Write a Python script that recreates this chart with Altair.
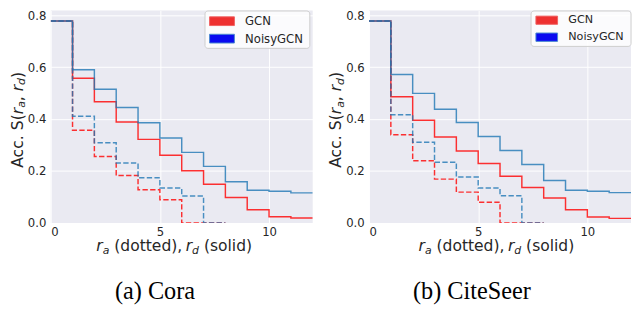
import altair as alt
import pandas as pd

# ---------------- data ----------------
# accuracy S(r_a, r_d) per radius step; solid = r_d (x 0..11), dotted = r_a (x 0..7)
cora_gcn_rd = [0.778, 0.557, 0.467, 0.389, 0.322, 0.261, 0.201, 0.149, 0.098, 0.051, 0.024, 0.019]
cora_noisy_rd = [0.778, 0.590, 0.515, 0.445, 0.386, 0.327, 0.272, 0.218, 0.159, 0.126, 0.122, 0.116]
cora_gcn_ra = [0.778, 0.357, 0.256, 0.183, 0.128, 0.090, 0.0, 0.0]
cora_noisy_ra = [0.778, 0.411, 0.309, 0.231, 0.174, 0.135, 0.104, 0.0]

cs_gcn_rd = [0.778, 0.486, 0.396, 0.331, 0.277, 0.229, 0.180, 0.137, 0.096, 0.051, 0.023, 0.018]
cs_noisy_rd = [0.778, 0.572, 0.499, 0.438, 0.387, 0.333, 0.279, 0.225, 0.164, 0.126, 0.122, 0.117]
cs_gcn_ra = [0.778, 0.340, 0.240, 0.169, 0.119, 0.080, 0.0, 0.0]
cs_noisy_ra = [0.778, 0.417, 0.311, 0.234, 0.177, 0.135, 0.105, 0.0]

x_ticks = [0, 5, 10]
y_ticks = [0.0, 0.2, 0.4, 0.6, 0.8]
models = ["GCN", "NoisyGCN"]
captions = ["(a) Cora", "(b) CiteSeer"]

# ---------------- styling ----------------
W, H = 270, 219
RED = "#ff0000"
BLUE = "#1f77b4"
DASH = [5.5, 2.4]
TXT = "#262626"
FONT = "DejaVu Sans"


def series_df(vals, end_x):
    xs = list(range(len(vals))) + [end_x]
    ys = list(vals) + [vals[-1]]
    return pd.DataFrame({"x": xs, "y": ys})


one = pd.DataFrame({"k": [0]})


def txt(text, x, y, size=16, italic=False, dx=0, dy=0, angle=0, align="left",
        baseline="alphabetic", font=FONT, color=TXT):
    kw = dict(text=text, fontSize=size, font=font, color=color, align=align,
              baseline=baseline, dx=dx, dy=dy)
    if italic:
        kw["fontStyle"] = "italic"
    if angle:
        kw["angle"] = angle
    return alt.Chart(one).mark_text(**kw).encode(x=alt.value(x), y=alt.value(y))


def rect(x1, x2, y1, y2, **kw):
    return alt.Chart(one).mark_rect(**kw).encode(
        x=alt.value(x1), x2=alt.value(x2), y=alt.value(y1), y2=alt.value(y2))


S = 16 / 2048.0      # DejaVu Sans advance units -> px at 16px
SUB = 11.2 / 2048.0  # subscript size
SP = 651 * S         # width of a space


def pieces(parts, ax, ay, angle=0):
    # parts: (text, italic, size, dy, lead_gap, advance)
    out, off = [], 0.0
    for t, it, sz, dy, gap, w in parts:
        out.append(txt(t, ax, ay, size=sz, italic=it, dx=off + gap, dy=dy, angle=angle))
        off += w
    return out


def y_title():
    parts = [("Acc.", False, 16, 0, 0, 4304 * S + SP),
             ("S(", False, 16, 0, 0, 2099 * S),
             ("r", True, 16, 0, 0, 842 * S),
             ("a", True, 11.2, 3, 0, 1255 * SUB),
             (",", False, 16, 0, 0, 1302 * S),
             ("r", True, 16, 0, 0, 842 * S),
             ("d", True, 11.2, 3, 0, 1300 * SUB),
             (")", False, 16, 0, 0, 799 * S)]
    return pieces(parts, -29, 162, angle=270)


def x_title(x0):
    parts = [("r", True, 16, 0, 0, 842 * S),
             ("a", True, 11.2, 3, 0, 1255 * SUB),
             ("(dotted),", False, 16, 0, SP, 10070 * S),
             ("r", True, 16, 0, 0, 842 * S),
             ("d", True, 11.2, 3, 0, 1300 * SUB),
             ("(solid)", False, 16, 0, SP, 7007 * S)]
    return pieces(parts, x0, 248)


def legend(box, patch_x, p1, p2, label_x, fs):
    out = [rect(box[0], box[1], box[2], box[3], fill="white", fillOpacity=0.8,
                stroke="#cccccc", strokeWidth=1, cornerRadius=3)]
    out.append(rect(patch_x[0], patch_x[1], p1[0], p1[1], fill="#ee3030",
                    stroke="#f06060", strokeWidth=1))
    out.append(rect(patch_x[0], patch_x[1], p2[0], p2[1], fill="#0a0af0",
                    stroke="#4a8ad0", strokeWidth=1))
    out.append(txt(models[0], label_x, (p1[0] + p1[1]) / 2, size=fs, baseline="middle"))
    out.append(txt(models[1], label_x, (p2[0] + p2[1]) / 2, size=fs, baseline="middle"))
    return out


def panel(gcn_rd, noisy_rd, gcn_ra, noisy_ra, caption, cap_x, xt_x, leg):
    xenc = alt.X("x:Q", scale=alt.Scale(domain=[0, 12], nice=False, zero=False),
                 axis=alt.Axis(values=x_ticks, title=None, format="d",
                               labelFontSize=12, labelFont=FONT, labelColor=TXT,
                               labelPadding=4))
    yenc = alt.Y("y:Q", scale=alt.Scale(domain=[0, 0.818], nice=False),
                 axis=alt.Axis(values=y_ticks, title=None, format=".1f",
                               labelFontSize=12, labelFont=FONT, labelColor=TXT,
                               labelPadding=5))
    layers = []
    for vals, end, color, dash in [(gcn_ra, 8, RED, DASH), (gcn_rd, 12, RED, None),
                                   (noisy_ra, 8, BLUE, DASH), (noisy_rd, 12, BLUE, None)]:
        kw = dict(interpolate="step-after", color=color, strokeWidth=1.5,
                  opacity=0.8, clip=True)
        if dash:
            kw["strokeDash"] = dash
        layers.append(alt.Chart(series_df(vals, end)).mark_line(**kw).encode(x=xenc, y=yenc))
    layers += legend(**leg)
    layers += y_title()
    layers += x_title(xt_x)
    layers.append(txt(caption, cap_x, 297.5, size=25, font="Liberation Serif",
                      align="center", color="black"))
    return alt.layer(*layers).properties(width=W, height=H)


left = panel(cora_gcn_rd, cora_noisy_rd, cora_gcn_ra, cora_noisy_ra, captions[0], 107.5, 47,
             dict(box=(159, 267, 0.5, 39), patch_x=(163.7, 189.3), p1=(6.5, 15.5),
                  p2=(24.5, 33.5), label_x=200.3, fs=12))
right = panel(cs_gcn_rd, cs_noisy_rd, cs_gcn_ra, cs_noisy_ra, captions[1], 106, 51,
              dict(box=(167, 270, 0.5, 37), patch_x=(172, 194.3), p1=(5.8, 14.2),
                   p2=(23.2, 31.8), label_x=205.3, fs=11.5))

chart = alt.hconcat(left, right, spacing=16).properties(
    padding={"left": 2, "top": -4, "right": 0, "bottom": 0},
    background="white"
).configure_view(fill="#eaeaf2", stroke=None).configure_axis(
    domain=False, ticks=False, tickSize=0, gridColor="white", gridWidth=1,
    labelFont=FONT, labelFontSize=12, labelColor=TXT
)

chart.save("out.html", embed_options={"renderer": "svg", "actions": False})
